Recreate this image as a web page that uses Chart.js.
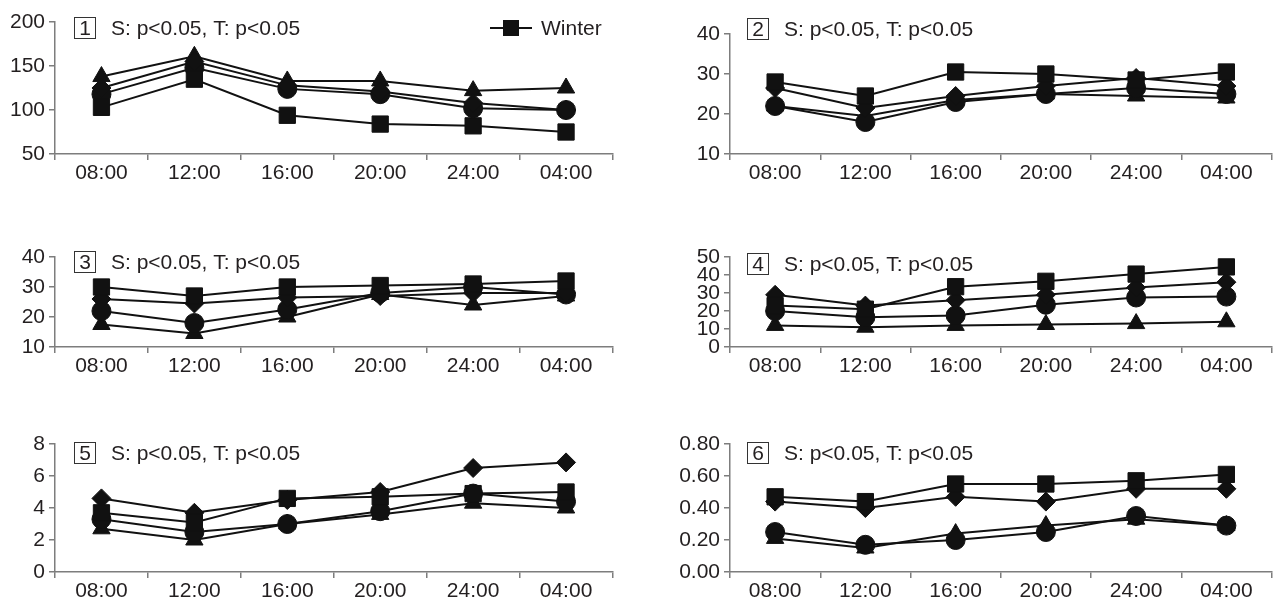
<!DOCTYPE html>
<html>
<head>
<meta charset="utf-8">
<script src="https://cdn.jsdelivr.net/npm/chart.js@4.4.1/dist/chart.umd.min.js"></script>
<style>
  html, body { margin: 0; padding: 0; background: #fff; }
  #wrap { position: relative; width: 1284px; height: 604px; overflow: hidden; }
  #wrap canvas { position: absolute; }
</style>
</head>
<body>
<div id="wrap"></div>
<script>
const times = ['08:00', '12:00', '16:00', '20:00', '24:00', '04:00'];
const seriesNames = ['Winter', 'Spring', 'Summer', 'Autumn'];
const seriesStyles = ['rect', 'rectRot', 'circle', 'triangle'];
const ANNOTATION = 'S: p<0.05, T: p<0.05';

// panel 1
const p1Winter = [103, 135, 94, 84, 82, 75];
const p1Spring = [125, 155, 128, 121, 108, 100];
const p1Summer = [118, 148, 124, 118, 102, 100];
const p1Autumn = [138, 161, 133, 133, 122, 125];
const p1Ticks = [50, 200, 50];

// panel 2
const p2Winter = [28, 24.5, 30.5, 30, 28.5, 30.5];
const p2Spring = [26.5, 21.5, 24.5, 27, 29, 27];
const p2Summer = [22, 18, 23, 25, 26.5, 25];
const p2Autumn = [22, 19.5, 23.5, 25, 24.5, 24];
const p2Ticks = [10, 40, 10];

// panel 3
const p3Winter = [30, 27, 30, 30.5, 31, 32];
const p3Spring = [26, 24.5, 26.5, 27, 28, 28];
const p3Summer = [22, 18, 22.5, 28, 30, 27.5];
const p3Autumn = [17.5, 14.5, 20, 27.5, 24, 27];
const p3Ticks = [10, 40, 10];

// panel 4
const p4Winter = [23, 21, 33.5, 36.5, 40.5, 44.5];
const p4Spring = [29, 23, 26, 29, 33, 36];
const p4Summer = [20, 16.5, 17.5, 23.5, 27.5, 28];
const p4Autumn = [12, 11, 12, 12.5, 13, 14];
const p4Ticks = [0, 50, 10];

// panel 5
const p5Winter = [3.7, 3.1, 4.6, 4.7, 4.9, 5.0];
const p5Spring = [4.6, 3.7, 4.5, 5.0, 6.5, 6.85];
const p5Summer = [3.3, 2.5, 3.0, 3.8, 4.9, 4.4];
const p5Autumn = [2.7, 2.0, 3.0, 3.6, 4.3, 4.0];
const p5Ticks = [0, 8, 2];

// panel 6
const p6Winter = [0.47, 0.44, 0.55, 0.55, 0.57, 0.61];
const p6Spring = [0.44, 0.40, 0.47, 0.44, 0.52, 0.52];
const p6Summer = [0.25, 0.17, 0.20, 0.25, 0.35, 0.29];
const p6Autumn = [0.21, 0.15, 0.24, 0.29, 0.33, 0.29];
const p6Ticks = [0, 0.8, 0.2];

const FONT = '"Liberation Sans", Arial, Helvetica, sans-serif';
const INK = '#231f20';
const AXIS = '#7d7d7d';

// layout of each panel on the page
const panels = [
  { num: '1', series: [p1Winter, p1Spring, p1Summer, p1Autumn], ticks: p1Ticks, digits: 0,
    box: [0, 0, 625, 190], plot: [55, 22, 613, 154], label: [74, 28], legend: true },
  { num: '2', series: [p2Winter, p2Spring, p2Summer, p2Autumn], ticks: p2Ticks, digits: 0,
    box: [640, 0, 644, 190], plot: [730, 34, 1284, 154], label: [747, 29] },
  { num: '3', series: [p3Winter, p3Spring, p3Summer, p3Autumn], ticks: p3Ticks, digits: 0,
    box: [0, 215, 625, 170], plot: [55, 257, 613, 347], label: [74, 262] },
  { num: '4', series: [p4Winter, p4Spring, p4Summer, p4Autumn], ticks: p4Ticks, digits: 0,
    box: [640, 215, 644, 170], plot: [730, 257, 1284, 347], label: [747, 264] },
  { num: '5', series: [p5Winter, p5Spring, p5Summer, p5Autumn], ticks: p5Ticks, digits: 0,
    box: [0, 410, 625, 194], plot: [55, 444, 613, 572], label: [74, 453] },
  { num: '6', series: [p6Winter, p6Spring, p6Summer, p6Autumn], ticks: p6Ticks, digits: 2,
    box: [640, 410, 644, 194], plot: [730, 444, 1284, 572], label: [747, 453] }
];

const panelLabel = {
  id: 'panelLabel',
  afterDraw(chart, args, opts) {
    const ctx = chart.ctx;
    const x = opts.x, y = opts.y;
    ctx.save();
    ctx.font = '21px ' + FONT;
    ctx.fillStyle = INK;
    ctx.strokeStyle = '#333';
    ctx.lineWidth = 1;
    ctx.strokeRect(x + 0.5, y - 10.5, 21, 21);
    ctx.textBaseline = 'middle';
    ctx.textAlign = 'center';
    ctx.fillText(opts.num, x + 11, y + 1);
    ctx.textAlign = 'left';
    ctx.fillText(ANNOTATION, x + 37, y + 1);
    if (opts.legend) {
      const lx = opts.legend.x, ly = opts.legend.y;
      ctx.strokeStyle = '#111';
      ctx.lineWidth = 2;
      ctx.beginPath();
      ctx.moveTo(lx, ly);
      ctx.lineTo(lx + 42, ly);
      ctx.stroke();
      ctx.fillStyle = '#111';
      ctx.fillRect(lx + 13, ly - 8, 16, 16);
      ctx.fillStyle = INK;
      ctx.fillText(seriesNames[0], lx + 51, ly + 1);
    }
    ctx.restore();
  }
};

const wrap = document.getElementById('wrap');

panels.forEach(p => {
  const [cx, cy, cw, ch] = p.box;
  const [pl, pt, pr, pb] = p.plot;
  const canvas = document.createElement('canvas');
  canvas.width = cw;
  canvas.height = ch;
  canvas.style.left = cx + 'px';
  canvas.style.top = cy + 'px';
  wrap.appendChild(canvas);

  const datasets = p.series.map((values, i) => ({
    label: seriesNames[i],
    data: values,
    borderColor: '#111',
    backgroundColor: '#111',
    borderWidth: 2,
    pointStyle: seriesStyles[i],
    pointRadius: [11.5, 9.5, 9.5, 10][i],
    pointBorderWidth: 1,
    tension: 0,
    clip: false
  }));

  new Chart(canvas, {
    type: 'line',
    data: { labels: times, datasets },
    options: {
      responsive: false,
      animation: false,
      devicePixelRatio: 1,
      layout: { padding: { top: pt - cy, right: cx + cw - pr, left: 0, bottom: 0 } },
      plugins: {
        legend: { display: false },
        tooltip: { enabled: false },
        panelLabel: {
          num: p.num,
          x: p.label[0] - cx,
          y: p.label[1] - cy,
          legend: p.legend ? { x: 490 - cx, y: 28 - cy } : null
        }
      },
      scales: {
        x: {
          type: 'category',
          offset: true,
          grid: { offset: true, drawOnChartArea: false, drawTicks: true, tickLength: 6, color: AXIS, lineWidth: 1.5 },
          border: { display: true, color: AXIS, width: 1.5 },
          ticks: { color: INK, font: { family: FONT, size: 21 }, padding: 1, maxRotation: 0, autoSkip: false },
          afterFit: s => { s.height = cy + ch - pb; }
        },
        y: {
          min: p.ticks[0],
          max: p.ticks[1],
          grid: { drawOnChartArea: false, drawTicks: true, tickLength: 6, color: AXIS, lineWidth: 1.5 },
          border: { display: true, color: AXIS, width: 1.5 },
          ticks: {
            stepSize: p.ticks[2],
            autoSkip: false,
            color: INK,
            font: { family: FONT, size: 21, lineHeight: 1 },
            padding: 4,
            callback: v => Number(v).toFixed(p.digits)
          },
          afterFit: s => { s.width = pl - cx; }
        }
      }
    },
    plugins: [panelLabel]
  });
});
</script>
</body>
</html>
